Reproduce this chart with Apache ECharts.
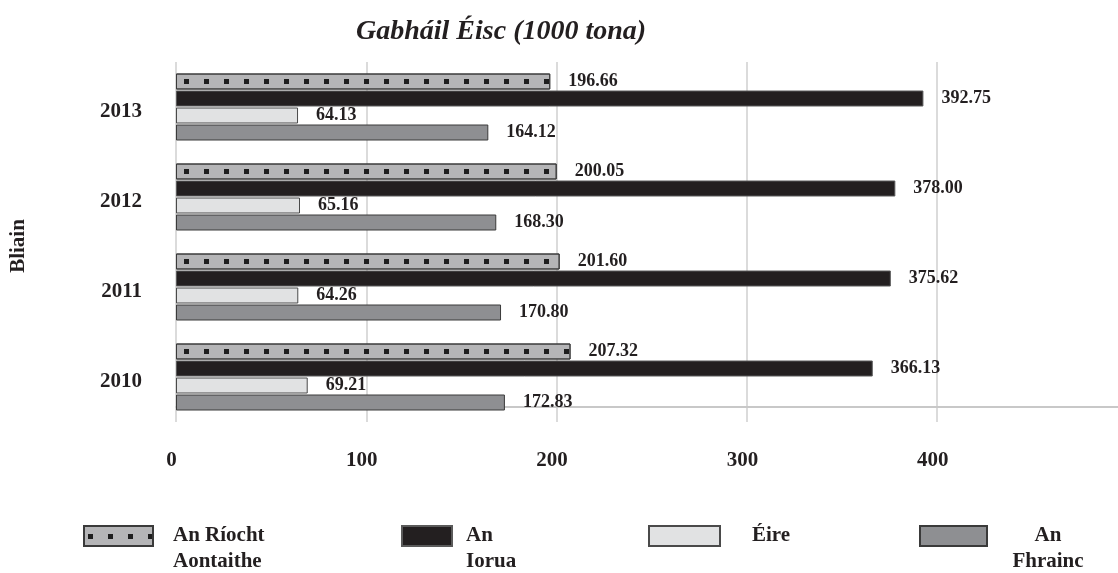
<!DOCTYPE html>
<html>
<head>
<meta charset="utf-8">
<script src="https://cdn.jsdelivr.net/npm/echarts@6/dist/echarts.min.js"></script>
<style>
  html, body { margin: 0; padding: 0; background: #ffffff; }
  #chart { width: 1118px; height: 573px; }
</style>
</head>
<body>
<div id="chart"></div>
<script>
// ---- Data ----
const titleText = 'Gabháil Éisc (1000 tona)';
const yAxisName = 'Bliain';
const years = ['2013', '2012', '2011', '2010'];
const seriesNames = ['An Ríocht Aontaithe', 'An Iorua', 'Éire', 'An Fhrainc'];
const ukValues = [196.66, 200.05, 201.60, 207.32];
const norwayValues = [392.75, 378.00, 375.62, 366.13];
const eireValues = [64.13, 65.16, 64.26, 69.21];
const franceValues = [164.12, 168.30, 170.80, 172.83];
const xTicks = [0, 100, 200, 300, 400];

// ---- Styling ----
const FONT = 'Liberation Serif';
const INK = '#231f20';
const fills = ['#b5b5b7', '#231f20', '#e1e2e3', '#8e8f92'];
const borders = ['#3a3a3a', '#5a5a5a', '#4a4a4a', '#3a3a3a'];
const seriesValues = [ukValues, norwayValues, eireValues, franceValues];

// dotted pattern on the UK bars (pattern anchored at canvas origin)
const dotDecal = {
  symbol: 'rect',
  symbolSize: 1,
  color: '#1e1e1e',
  dashArrayX: [0, 4, 5, 11],
  dashArrayY: [0, 79, 5, 6]
};
// same pattern for the legend icon (anchored at the icon's own origin)
const legendDotDecal = {
  symbol: 'rect',
  symbolSize: 1,
  color: '#1e1e1e',
  dashArrayX: [0, 4, 5, 11],
  dashArrayY: [0, 8, 5, 7]
};

const series = seriesNames.map((name, i) => ({
  name: name,
  type: 'bar',
  data: seriesValues[i],
  barWidth: 16,
  barGap: '6.25%',
  barCategoryGap: '20%',
  itemStyle: Object.assign({
    color: fills[i],
    borderColor: borders[i],
    borderWidth: 1
  }, i === 0 ? { decal: dotDecal } : {}),
  label: {
    show: true,
    position: 'right',
    distance: 18,
    fontFamily: FONT,
    fontWeight: 'bold',
    fontSize: 18,
    color: INK,
    formatter: p => Number(p.value).toFixed(2)
  }
}));

const richBase = { fontFamily: FONT, fontWeight: 'bold', fontSize: 21, lineHeight: 26, color: INK };
const legendSpecs = [
  { name: seriesNames[0], left: 83, w: 69, text: '{a|An Ríocht}\n{a|Aontaithe}', pad: [26, 0, 0, 15], decal: legendDotDecal },
  { name: seriesNames[1], left: 401, w: 50, text: '{a|An}\n{a|Iorua}', pad: [26, 0, 0, 9] },
  { name: seriesNames[2], left: 648, w: 71, text: '{a|Éire}', pad: [0, 0, 0, 27] },
  { name: seriesNames[3], left: 919, w: 67, text: '{c|An}\n{c|Fhrainc}', pad: [26, 0, 0, 17] }
];
const legends = legendSpecs.map(s => {
  const lg = {
    data: [s.name],
    left: s.left,
    top: 525,
    padding: 0,
    icon: 'rect',
    itemWidth: s.w,
    itemHeight: 20,
    selectedMode: false,
    formatter: () => s.text,
    textStyle: {
      padding: s.pad,
      rich: {
        a: Object.assign({}, richBase),
        c: Object.assign({ width: 78, align: 'center' }, richBase)
      }
    }
  };
  if (s.decal) lg.itemStyle = { decal: s.decal };
  return lg;
});

const chart = echarts.init(document.getElementById('chart'), null, { renderer: 'canvas' });
chart.setOption({
  backgroundColor: '#ffffff',
  animation: false,
  title: {
    text: titleText,
    left: 351,
    top: 13,
    textStyle: { fontFamily: FONT, fontStyle: 'italic', fontWeight: 'bold', fontSize: 28, color: INK }
  },
  legend: legends,
  grid: { left: 174, right: 0, top: 62, bottom: 151, containLabel: false },
  xAxis: {
    type: 'value',
    min: 0,
    max: 495,
    interval: 100,
    offset: -15,
    axisLine: { show: true, lineStyle: { color: '#c8c8c8', width: 2 } },
    axisTick: { show: false },
    axisLabel: {
      showMaxLabel: false,
      margin: 43,
      padding: [0, 9, 0, 0],
      fontFamily: FONT, fontWeight: 'bold', fontSize: 21, color: INK,
      formatter: v => (xTicks.indexOf(v) >= 0 ? String(v) : '')
    },
    splitLine: { show: true, showMaxLine: false, lineStyle: { color: '#cfcfcf', width: 1.5 } }
  },
  yAxis: {
    type: 'category',
    data: years,
    inverse: true,
    name: yAxisName,
    nameLocation: 'middle',
    nameRotate: 90,
    nameGap: 147,
    nameTextStyle: { fontFamily: FONT, fontWeight: 'bold', fontSize: 21, color: INK, padding: [0, 8, 0, 0] },
    axisLine: { show: false },
    axisTick: { show: false },
    axisLabel: {
      margin: 34,
      formatter: v => '{y|' + v + '}',
      rich: { y: { padding: [10, 0, 0, 0], fontFamily: FONT, fontWeight: 'bold', fontSize: 21, color: INK } }
    }
  },
  series: series
});
</script>
</body>
</html>
